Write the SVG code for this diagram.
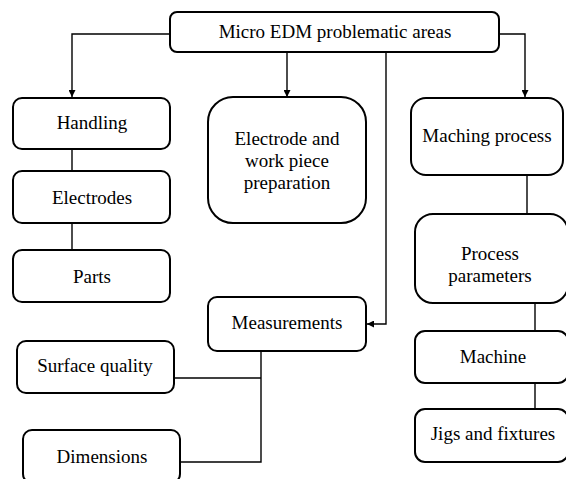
<svg xmlns="http://www.w3.org/2000/svg" width="566" height="479" viewBox="0 0 566 479">
<style>
.box{fill:#fff;stroke:#000;stroke-width:2}
.t{font-family:"Liberation Serif","Times New Roman",serif;font-size:19px;fill:#000;text-anchor:middle}
.c{fill:none;stroke:#000;stroke-width:1.4}
</style>
<defs>
<marker id="ah" viewBox="0 0 10 10" refX="10" refY="5" markerWidth="7" markerHeight="7" markerUnits="userSpaceOnUse" orient="auto">
<path d="M0,0 L10,5 L0,10 Z" fill="#000"/>
</marker>
</defs>
<rect width="566" height="479" fill="#fff"/>
<g id="connectors">
<path class="c" d="M170,34 H72 V97" marker-end="url(#ah)"/>
<path class="c" d="M287,52 V97" marker-end="url(#ah)"/>
<path class="c" d="M386,52 V324 H367" marker-end="url(#ah)"/>
<path class="c" d="M499,34 H525 V97" marker-end="url(#ah)"/>
<path class="c" d="M72,149 V171"/>
<path class="c" d="M72,223 V250"/>
<path class="c" d="M261,351 V462 H180"/>
<path class="c" d="M261,378 H174"/>
<path class="c" d="M527,175 V214"/>
<path class="c" d="M535,303 V331"/>
<path class="c" d="M535,383 V409"/>
</g>
<g id="root"><rect class="box" x="170" y="12" width="329" height="40" rx="7"/><text class="t" x="335" y="38">Micro EDM problematic areas</text></g>
<g id="handling"><rect class="box" x="13" y="98" width="157" height="51" rx="9"/><text class="t" x="92" y="129">Handling</text></g>
<g id="electrodes"><rect class="box" x="13" y="171" width="157" height="52" rx="9"/><text class="t" x="92" y="204">Electrodes</text></g>
<g id="parts"><rect class="box" x="13" y="250" width="157" height="52" rx="9"/><text class="t" x="92" y="283">Parts</text></g>
<g id="prep"><rect class="box" x="208" y="97" width="158" height="126" rx="25"/><text class="t" x="287" y="145">Electrode and</text><text class="t" x="287" y="167">work piece</text><text class="t" x="287" y="189">preparation</text></g>
<g id="measurements"><rect class="box" x="208" y="297" width="158" height="54" rx="9"/><text class="t" x="287" y="329">Measurements</text></g>
<g id="surface"><rect class="box" x="17" y="341" width="157" height="52" rx="9"/><text class="t" x="95" y="372">Surface quality</text></g>
<g id="dimensions"><rect class="box" x="23" y="430" width="157" height="53" rx="9"/><text class="t" x="102" y="463">Dimensions</text></g>
<g id="maching"><rect class="box" x="411" y="98" width="152" height="77" rx="15"/><text class="t" x="487" y="142">Maching process</text></g>
<g id="params"><rect class="box" x="415" y="214" width="153" height="89" rx="18"/><text class="t" x="490" y="260">Process</text><text class="t" x="490" y="282">parameters</text></g>
<g id="machine"><rect class="box" x="415" y="331" width="153" height="52" rx="10"/><text class="t" x="493" y="363">Machine</text></g>
<g id="jigs"><rect class="box" x="415" y="409" width="153" height="53" rx="10"/><text class="t" x="493" y="440">Jigs and fixtures</text></g>
</svg>
